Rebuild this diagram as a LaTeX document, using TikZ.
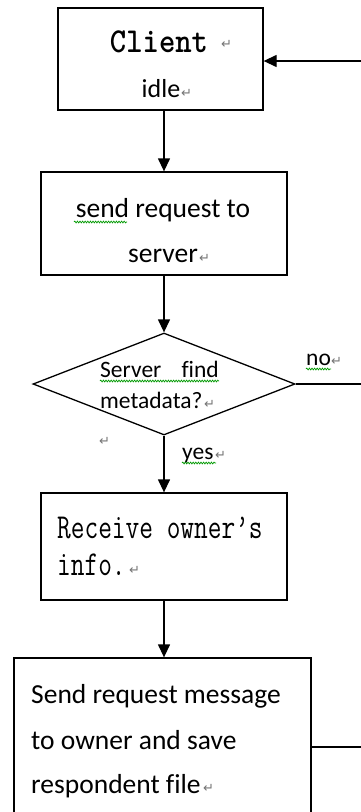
\documentclass[tikz,border=0pt]{standalone}
\usepackage{fontspec}
\setmainfont[Ligatures=NoCommon]{Carlito}
\newfontfamily\markfont{DejaVu Sans}
\usetikzlibrary{arrows.meta,shapes.geometric,decorations.pathmorphing}

\begin{document}
\begin{tikzpicture}[x=1pt,y=-1pt,
  flowbox/.style={draw=black, line width=1.3pt, rectangle, inner sep=0pt},
  decision/.style={draw=black, line width=1.3pt, diamond, inner sep=0pt},
  flow/.style={line width=1.3pt, -{Triangle[length=13pt,width=12pt]}},
  plain/.style={line width=1.3pt},
  txt/.style={inner sep=0pt, text=black, font=\fontsize{27.5}{33}\selectfont},
  smalltxt/.style={inner sep=0pt, text=black, font=\fontsize{23.5}{28}\selectfont},
  mono/.style={inner sep=0pt, text=black, font=\ttfamily\fontsize{35}{40}\selectfont},
  pmark/.style={inner sep=0pt, text=black!55, font=\markfont\fontsize{13}{13}\selectfont},
  spell/.style={draw=green!60!black, line width=0.7pt, decorate,
                decoration={snake, amplitude=0.9pt, segment length=2.6pt}}]

\useasboundingbox (0,0) rectangle (361,812);
\clip (0,0) rectangle (361,812);

% shapes
\node[flowbox, minimum width=205pt, minimum height=102pt] (client) at (160.5,59) {};
\node[flowbox, minimum width=246pt, minimum height=103pt] (send) at (164,223.5) {};
\node[decision, minimum width=262pt, minimum height=102pt] (find) at (164,384) {};
\node[flowbox, minimum width=246pt, minimum height=107pt] (recv) at (164,546.5) {};
\node[flowbox, minimum width=297pt, minimum height=180pt] (save) at (162.5,748) {};

% loose ends running off to the right
\coordinate (backin) at (362,61);
\coordinate (noout) at (362,384);
\coordinate (doneout) at (362,747);

% connectors
\draw[flow] (send.north |- client.south) -- (send.north);
\draw[flow] (send.south) -- (find.north);
\draw[flow] (find.south) -- (recv.north);
\draw[flow] (recv.south) -- (recv.south |- save.north);
\draw[flow] (backin) -- (client.east |- backin);
\draw[plain] (find.east) -- (noout);
\draw[plain] (save.east |- doneout) -- (doneout);

% texts
\node[mono, anchor=base] (tclient) at (159,52) {\scalebox{0.89}[1]{\bfseries Client}};
\node[pmark, anchor=base west] (mclient) at (221,48) {↵};
\node[txt, font=\fontsize{26}{30}\selectfont, anchor=base] (tidle) at (161,97) {idle};
\node[pmark, anchor=base west] (midle) at (181,97) {↵};

\node[txt, anchor=base] (tsend1) at (163,217) {send request to};
\node[txt, anchor=base] (tsend2) at (163,262) {server};
\node[pmark, anchor=base west] (msend) at (199,262) {↵};
\draw[spell] (74,222) -- (127,222);

\node[smalltxt, anchor=base west] (tfind1) at (100,377) {Server};
\node[smalltxt, anchor=base east] (tfind2) at (219,377) {find};
\node[smalltxt, anchor=base west] (tfind3) at (100,408) {metadata?};
\node[pmark, anchor=base west] (mfind) at (204,408) {↵};
\draw[spell] (100,381) -- (219,381);
\node[pmark, anchor=base west] (mstray) at (99,445) {↵};

\node[smalltxt, anchor=base west] (tno) at (306,365) {no};
\node[pmark, anchor=base west] (mno) at (331,365) {↵};
\draw[spell] (306,369) -- (331,369);

\node[smalltxt, anchor=base west] (tyes) at (182,459) {yes};
\node[pmark, anchor=base west] (myes) at (215,459) {↵};
\draw[spell] (182,463) -- (216,463);

\node[mono, anchor=base west] (trecv1) at (57,538) {\scalebox{0.76}[1]{Receive owner’s}};
\node[mono, anchor=base west] (trecv2) at (57,575) {\scalebox{0.76}[1]{info.}};
\node[pmark, anchor=base west] (mrecv) at (129,574) {↵};

\node[txt, anchor=base west] (tsave1) at (31,703) {Send request message};
\node[txt, anchor=base west] (tsave2) at (31,749) {to owner and save};
\node[txt, anchor=base west] (tsave3) at (31,793) {respondent file};
\node[pmark, anchor=base west] (msave) at (203,792) {↵};
\end{tikzpicture}
\end{document}
